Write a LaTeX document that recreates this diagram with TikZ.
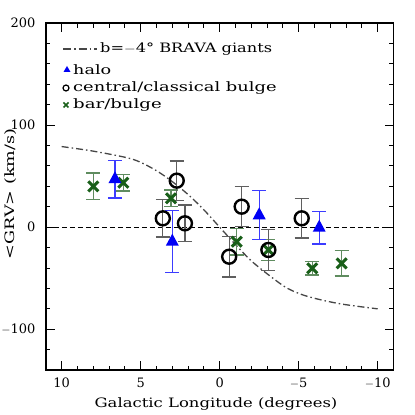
\documentclass[tikz,border=0pt]{standalone}
\usepackage{graphicx}
\usepackage{fontspec}
\setmainfont{DejaVu Serif}
\definecolor{mk}{RGB}{25,95,25}
\definecolor{gbar}{RGB}{95,140,95}
\definecolor{kbar}{RGB}{95,95,95}
\definecolor{bl}{RGB}{0,0,245}
\definecolor{bbar}{RGB}{60,60,255}
\definecolor{curve}{RGB}{70,70,70}
\newcommand\errb[4]{%
  \draw[#4,line width=1.3bp] (#1,#2-#3) -- (#1,#2+#3);
  \draw[#4,line width=1.3bp] (#1,#2-#3) ++(-7bp,0) -- ++(14bp,0);
  \draw[#4,line width=1.3bp] (#1,#2+#3) ++(-7bp,0) -- ++(14bp,0);}
\newcommand\cmark[2]{\draw[black,line width=2.4bp] (#1,#2) circle[radius=7bp];}
\newcommand\tmark[2]{\fill[bl] (#1,#2) ++(0,8bp) -- ++(-6.5bp,-12bp) -- ++(13bp,0) -- cycle;}
\newcommand\xmark[2]{\draw[mk,line width=3bp] (#1,#2) ++(-5bp,-5bp) -- ++(10bp,10bp) ++(-10bp,0) -- ++(10bp,-10bp);}
\newcommand\widetxt[2]{\scalebox{#1}[1]{#2}}
\begin{document}
\begin{tikzpicture}[x=1bp,y=1bp,font=\fontsize{13}{15}\selectfont]
\useasboundingbox (0,0) rectangle (415,415);
\begin{scope}[x=-15.8bp,y=1.0206bp,shift={(219.7bp,187.8bp)}]
% zero line
\draw[black,line width=0.9bp,dash pattern=on 5bp off 3bp] (11,0) -- (-11,0);
% model curve
\draw[curve,line width=1.3bp,dash pattern=on 7bp off 3bp on 1.5bp off 3bp] plot[smooth,tension=0.5] coordinates
 {(10,79) (8,74.5) (5.6,67) (4.3,58) (3.2,47) (2,32) (1,17) (0,0) (-1,-17) (-2,-33) (-3.2,-48) (-4.3,-60) (-5.6,-68) (-7.6,-75) (-10,-80)};
% error bars
\errb{8}{40}{13}{gbar}
\errb{6.1}{43.6}{8}{gbar}
\errb{3.08}{28.3}{8}{gbar}
\errb{-1.08}{-14.2}{13}{gbar}
\errb{-3.08}{-22.3}{10}{gbar}
\errb{-5.86}{-40.3}{6.5}{gbar}
\errb{-7.72}{-35.4}{12.5}{gbar}
\errb{2.72}{45.6}{19.3}{kbar}
\errb{3.6}{8.7}{18.3}{kbar}
\errb{2.2}{3.8}{18}{kbar}
\errb{-1.39}{20.1}{19.6}{kbar}
\errb{-0.6}{-28.9}{20}{kbar}
\errb{-3.08}{-22.3}{20}{kbar}
\errb{-5.19}{8.7}{19.3}{kbar}
\errb{6.63}{47}{18.5}{bbar}
\errb{3.0}{-14.2}{30.5}{bbar}
\errb{-2.5}{11.7}{24}{bbar}
\errb{-6.3}{-0.5}{16}{bbar}
% markers
\xmark{8}{40}
\xmark{6.1}{43.6}
\xmark{3.08}{28.3}
\xmark{-1.08}{-14.2}
\xmark{-3.08}{-22.3}
\xmark{-5.86}{-40.3}
\xmark{-7.72}{-35.4}
\tmark{6.63}{47}
\tmark{3.0}{-14.2}
\tmark{-2.5}{11.7}
\tmark{-6.3}{-0.5}
\cmark{2.72}{45.6}
\cmark{3.6}{8.7}
\cmark{2.2}{3.8}
\cmark{-1.39}{20.1}
\cmark{-0.6}{-28.9}
\cmark{-3.08}{-22.3}
\cmark{-5.19}{8.7}
% ticks
\foreach \t in {-10,...,10}{
  \draw[line width=1bp] (\t,-140) -- ++(0,4.5bp);
  \draw[line width=1bp] (\t,200) -- ++(0,-4.5bp);}
\foreach \t in {-10,-5,0,5,10}{
  \draw[line width=1bp] (\t,-140) -- ++(0,9bp);
  \draw[line width=1bp] (\t,200) -- ++(0,-9bp);}
\foreach \v in {-120,-100,...,180}{
  \draw[line width=1bp] (11,\v) -- ++(4.5bp,0);
  \draw[line width=1bp] (-11,\v) -- ++(-4.5bp,0);}
\foreach \v in {-100,0,100}{
  \draw[line width=1bp] (11,\v) -- ++(9bp,0);
  \draw[line width=1bp] (-11,\v) -- ++(-9bp,0);}
\draw[line width=1.5bp] (11,-140) rectangle (-11,200);
% tick labels
\foreach \t/\l in {10/10,5/5,0/0,-5/$-$5,-10/$-$10}
  \node (xl\t) at (\t,-140) [yshift=-13bp] {\l};
\node[anchor=east] (yl200) at (11,200) [xshift=-7bp] {200};
\node[anchor=east] (yl100) at (11,100) [xshift=-7bp] {100};
\node[anchor=east] (yl0) at (11,0) [xshift=-7bp] {0};
\node[anchor=east] (ylm100) at (11,-100) [xshift=-7bp] {$-$100};
\end{scope}
% axis labels
\node (xlab) at (216,11) {\widetxt{1.27}{Galactic Longitude (degrees)}};
\node[rotate=90] (ylab) at (11,221) {\widetxt{1.36}{<GRV> (km/s)}};
% legend
\draw[curve,line width=1.3bp,dash pattern=on 8bp off 3bp on 1.5bp off 3bp] (63,366) -- (97,366);
\node[anchor=west,inner sep=0] (lg1) at (100,366) {\widetxt{1.25}{b=$-$4° BRAVA giants}};
\fill[bl] (67,349) -- (63.5,343) -- (70.5,343) -- cycle;
\node[anchor=west,inner sep=0] (lg2) at (73,345) {\widetxt{1.36}{halo}};
\draw[black,line width=1.2bp] (66,327) circle[radius=3bp];
\node[anchor=west,inner sep=0] (lg3) at (73,327) {\widetxt{1.38}{central/classical bulge}};
\draw[mk,line width=1.5bp] (63.5,307.5) -- (68.5,312.5) (63.5,312.5) -- (68.5,307.5);
\node[anchor=west,inner sep=0] (lg4) at (73,310) {\widetxt{1.4}{bar/bulge}};
\end{tikzpicture}
\end{document}
